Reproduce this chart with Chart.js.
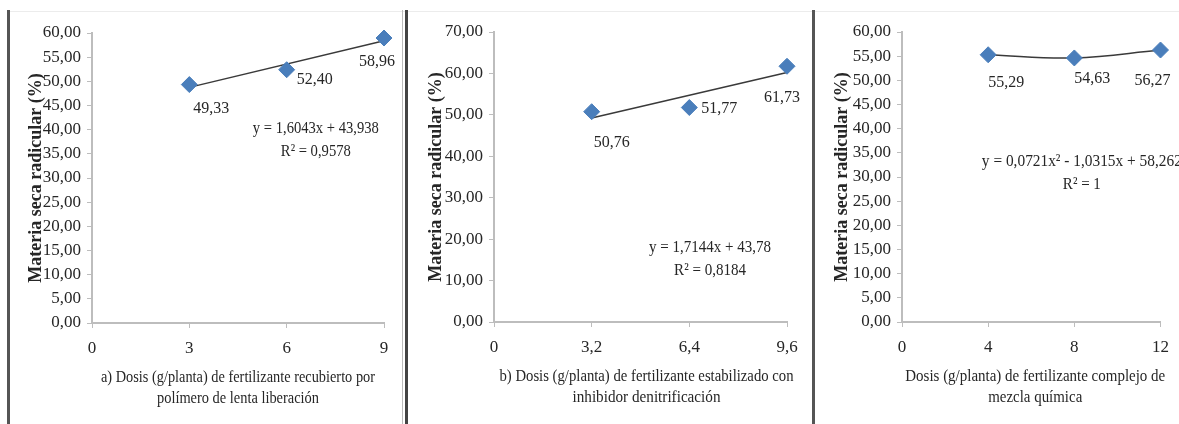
<!DOCTYPE html>
<html>
<head>
<meta charset="utf-8">
<script src="https://cdn.jsdelivr.net/npm/chart.js@4.4.1/dist/chart.umd.min.js"></script>
<style>
    body { margin: 0; background: #fff; width: 1179px; height: 424px; overflow: hidden; position: relative; }
    .panel { position: absolute; top: 0; }
    .rule { position: absolute; }
</style>
</head>
<body>
<!-- marcos de la figura -->
<div class="rule" style="left:9px;top:11px;width:1170px;height:1px;background:#ececec"></div>
<div class="rule" style="left:7px;top:10px;width:3px;height:414px;background:#555"></div>
<div class="rule" style="left:402px;top:10px;width:1px;height:414px;background:#bbb"></div>
<div class="rule" style="left:405px;top:10px;width:3px;height:414px;background:#444"></div>
<div class="rule" style="left:812px;top:10px;width:3px;height:414px;background:#555"></div>

<div class="panel" style="left:12px;width:392px"><canvas id="chartA" width="392" height="424"></canvas></div>
<div class="panel" style="left:410px;width:402px"><canvas id="chartB" width="402" height="424"></canvas></div>
<div class="panel" style="left:816px;width:363px"><canvas id="chartC" width="363" height="424"></canvas></div>

<script>
// a) fertilizante recubierto por polímero
const dosesA = [3, 6, 9];
const valuesA = [49.33, 52.40, 58.96];
const xTicksA = [0, 3, 6, 9];
const yMaxA = 60, yStepA = 5;
const trendA = [1.6043, 43.938]; // pendiente, intercepto
const eqA = ['y = 1,6043x + 43,938', 'R² = 0,9578'];

// b) fertilizante estabilizado
const dosesB = [3.2, 6.4, 9.6];
const valuesB = [50.76, 51.77, 61.73];
const xTicksB = [0, 3.2, 6.4, 9.6];
const yMaxB = 70, yStepB = 10;
const trendB = [1.7144, 43.78];
const eqB = ['y = 1,7144x + 43,78', 'R² = 0,8184'];

// c) fertilizante complejo de mezcla química
const dosesC = [4, 8, 12];
const valuesC = [55.29, 54.63, 56.27];
const xTicksC = [0, 4, 8, 12];
const yMaxC = 60, yStepC = 5;
const eqC = ['y = 0,0721x² - 1,0315x + 58,262', 'R² = 1'];

const yTitle = 'Materia seca radicular (%)';
const xTitleA = ['a) Dosis (g/planta) de fertilizante recubierto por', 'polímero de lenta liberación'];
const xTitleB = ['b) Dosis (g/planta) de fertilizante estabilizado con', 'inhibidor denitrificación'];
const xTitleC = ['Dosis (g/planta) de fertilizante complejo de', 'mezcla química'];

const FONT = '"Liberation Serif", "Times New Roman", serif';
const TEXT = '#262626';
const AXIS = '#bdbdbd';
const BLUE = '#4a7ebb';

const coma = (v, d) => (d == null ? String(v) : v.toFixed(d)).replace('.', ',');

// etiquetas de datos, ecuación de tendencia y título del eje x (texto algo condensado)
const anotaciones = {
    id: 'anotaciones',
    afterDatasetsDraw(chart, args, opts) {
        const ctx = chart.ctx;
        const meta = chart.getDatasetMeta(0);
        const area = chart.chartArea;
        ctx.save();
        ctx.fillStyle = TEXT;
        ctx.font = '17px ' + FONT;
        ctx.textAlign = 'center';
        ctx.textBaseline = 'middle';
        meta.data.forEach((pt, i) => {
            const off = opts.offsets[i];
            ctx.fillText(coma(chart.data.datasets[0].data[i].y, 2), pt.x + off[0], pt.y + off[1], 36);
        });
        const ex = chart.scales.x.getPixelForValue(opts.eqAt[0]);
        const ey = chart.scales.y.getPixelForValue(opts.eqAt[1]);
        opts.eq.forEach((line, i) => ctx.fillText(line, ex, ey + i * 23, opts.eqW[i]));

        const cx = (area.left + area.right) / 2 + opts.titleDx;
        opts.xTitle.forEach((line, i) => ctx.fillText(line, cx, area.bottom + 55 + i * 21, opts.titleW[i]));
        ctx.restore();
    }
};

function panel(id, doses, values, trend, xTicks, yMax, yStep, xTitle, eq, layout) {
    const datasets = [{
        data: doses.map((d, i) => ({ x: d, y: values[i] })),
        pointStyle: 'rectRot',
        pointRadius: 8,
        pointBackgroundColor: BLUE,
        pointBorderColor: BLUE,
        showLine: false,
        clip: false,
        order: 0
    }, {
        data: trend,
        showLine: true,
        borderColor: '#3a3a3a',
        borderWidth: 1.5,
        pointRadius: 0,
        tension: trend.length > 2 ? 0.4 : 0,
        clip: false,
        order: 1
    }];
    return new Chart(document.getElementById(id), {
        type: 'scatter',
        data: { datasets },
        options: {
            responsive: false,
            animation: false,
            layout: { padding: layout.padding },
            plugins: {
                legend: { display: false },
                tooltip: { enabled: false },
                anotaciones: {
                    offsets: layout.offsets, eq, eqAt: layout.eqAt, eqW: layout.eqW,
                    xTitle, titleW: layout.titleW, titleDx: layout.titleDx
                }
            },
            scales: {
                x: {
                    type: 'linear',
                    min: 0,
                    max: xTicks[xTicks.length - 1],
                    afterBuildTicks: s => { s.ticks = xTicks.map(v => ({ value: v })); },
                    afterFit: s => { s.height = layout.xH; },
                    ticks: { color: TEXT, font: { family: FONT, size: 17 }, padding: 10, maxRotation: 0, callback: v => coma(v) },
                    grid: { drawOnChartArea: false, drawTicks: true, tickLength: 5, color: AXIS },
                    border: { color: AXIS, width: 2 }
                },
                y: {
                    min: 0,
                    max: yMax,
                    afterFit: s => { s.width = layout.yW; },
                    ticks: { stepSize: yStep, color: TEXT, font: { family: FONT, size: 17 }, padding: 6, callback: v => coma(v, 2) },
                    grid: { drawOnChartArea: false, drawTicks: true, tickLength: 5, color: AXIS },
                    border: { color: AXIS, width: 2 },
                    title: { display: true, text: yTitle, color: TEXT, font: { family: FONT, size: 18, weight: 'bold', lineHeight: 1.2 }, padding: 0 }
                }
            }
        },
        plugins: [anotaciones]
    });
}

const lineal = (c, doses) => [doses[0], doses[doses.length - 1]].map(x => ({ x, y: c[0] * x + c[1] }));

panel('chartA', dosesA, valuesA, lineal(trendA, dosesA), xTicksA, yMaxA, yStepA, xTitleA, eqA, {
    padding: { left: 14, top: 33, right: 20, bottom: 15 }, yW: 66, xH: 86,
    offsets: [[22, 24], [28, 10], [-7, 24]], eqAt: [6.9, 40.3], eqW: [126, 70],
    titleW: [274, 162], titleDx: 0
});
panel('chartB', dosesB, valuesB, lineal(trendB, dosesB), xTicksB, yMaxB, yStepB, xTitleB, eqB, {
    padding: { left: 16, top: 32, right: 25, bottom: 15 }, yW: 68, xH: 87,
    offsets: [[20, 31], [30, 1], [-5, 31]], eqAt: [7.08, 17.9], eqW: [122, 72],
    titleW: [294, 148], titleDx: 6
});
panel('chartC', dosesC, valuesC, dosesC.map((x, i) => ({ x, y: valuesC[i] })), xTicksC, yMaxC, yStepC, xTitleC, eqC, {
    padding: { left: 16, top: 32, right: 14, bottom: 15 }, yW: 70, xH: 87,
    offsets: [[18, 28], [18, 21], [-8, 31]], eqAt: [8.35, 33.1], eqW: [200, 38],
    titleW: [260, 94], titleDx: 4
});
</script>
</body>
</html>
